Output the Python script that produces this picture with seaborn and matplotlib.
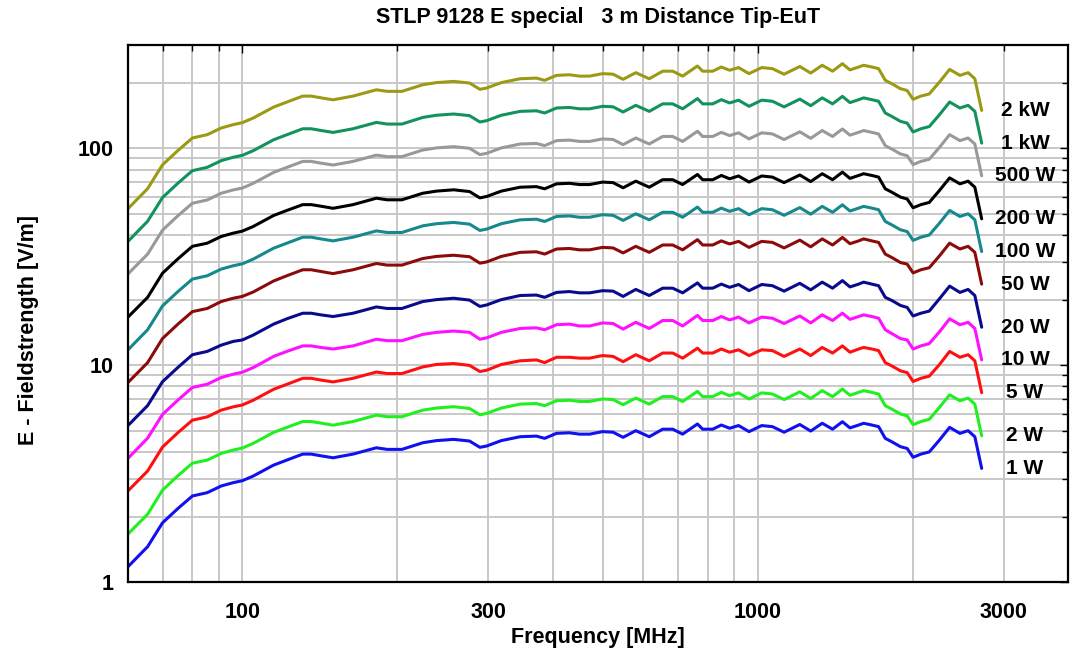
import numpy as np
import pandas as pd
import seaborn as sns
import matplotlib.pyplot as plt
from matplotlib.ticker import FixedLocator, FuncFormatter, NullFormatter

# frequency points [MHz]
freq_mhz = [60, 65.5, 70, 75, 80, 85.5, 91, 96, 100, 105,
            115, 122, 131, 136, 142, 150, 164, 182, 191, 204,
            224, 238, 257, 276, 289, 298, 318, 346, 372, 386,
            407, 431, 451, 472, 500, 524, 548, 580, 616, 654,
            684, 715, 764, 782, 818, 850, 882, 918, 962, 1018,
            1068, 1125, 1207, 1267, 1334, 1397, 1460, 1510, 1570, 1605,
            1665, 1716, 1768, 1822, 1892, 1950, 2002, 2073, 2152, 2253,
            2357, 2468, 2560, 2638, 2720]

# field strength [V/m] for each forward power
e_2kw = [52.8, 65.3, 84.1, 97.9, 111.8, 115.8, 124.3, 128.8, 131.5, 138.2,
         155.2, 163.7, 174.4, 174.4, 171.3, 167.7, 174.4, 186.5, 183.4, 183.4,
         196.8, 201.2, 203.9, 200.3, 187.4, 190.1, 201.2, 209.7, 211.1, 206.2,
         217.3, 218.7, 215.6, 215.6, 221.4, 220.0, 208.4, 223.6, 209.7, 227.2,
         227.2, 215.6, 240.1, 227.2, 227.2, 237.5, 229.4, 236.1, 221.4, 236.1,
         233.4, 220.0, 238.8, 222.7, 241.9, 227.2, 246.0, 230.3, 237.5, 241.9,
         237.5, 233.4, 206.2, 198.6, 188.7, 185.1, 168.6, 174.4, 178.4, 202.6,
         231.6, 217.3, 223.6, 209.7, 149.8]
e_1kw = [37.3, 46.2, 59.4, 69.2, 79.0, 81.9, 87.9, 91.1, 93.0, 97.7,
         109.7, 115.7, 123.3, 123.3, 121.1, 118.6, 123.3, 131.9, 129.6, 129.6,
         139.1, 142.3, 144.2, 141.7, 132.5, 134.4, 142.3, 148.3, 149.2, 145.8,
         153.7, 154.6, 152.4, 152.4, 156.5, 155.6, 147.3, 158.1, 148.3, 160.6,
         160.6, 152.4, 169.8, 160.6, 160.6, 167.9, 162.2, 167.0, 156.5, 167.0,
         165.1, 155.6, 168.9, 157.5, 171.1, 160.6, 173.9, 162.8, 167.9, 171.1,
         167.9, 165.1, 145.8, 140.4, 133.4, 130.9, 119.2, 123.3, 126.2, 143.2,
         163.8, 153.7, 158.1, 148.3, 105.9]
e_500w = [26.4, 32.6, 42.0, 49.0, 55.9, 57.9, 62.2, 64.4, 65.7, 69.1,
          77.6, 81.8, 87.2, 87.2, 85.6, 83.9, 87.2, 93.2, 91.7, 91.7,
          98.4, 100.6, 102.0, 100.2, 93.7, 95.0, 100.6, 104.9, 105.5, 103.1,
          108.7, 109.3, 107.8, 107.8, 110.7, 110.0, 104.2, 111.8, 104.9, 113.6,
          113.6, 107.8, 120.1, 113.6, 113.6, 118.7, 114.7, 118.1, 110.7, 118.1,
          116.7, 110.0, 119.4, 111.4, 121.0, 113.6, 123.0, 115.2, 118.7, 121.0,
          118.7, 116.7, 103.1, 99.3, 94.4, 92.6, 84.3, 87.2, 89.2, 101.3,
          115.8, 108.7, 111.8, 104.9, 74.9]
e_200w = [16.7, 20.6, 26.6, 31.0, 35.4, 36.6, 39.3, 40.7, 41.6, 43.7,
          49.1, 51.8, 55.1, 55.1, 54.2, 53.0, 55.1, 59.0, 58.0, 58.0,
          62.2, 63.6, 64.5, 63.3, 59.2, 60.1, 63.6, 66.3, 66.7, 65.2,
          68.7, 69.1, 68.2, 68.2, 70.0, 69.6, 65.9, 70.7, 66.3, 71.8,
          71.8, 68.2, 75.9, 71.8, 71.8, 75.1, 72.5, 74.7, 70.0, 74.7,
          73.8, 69.6, 75.5, 70.4, 76.5, 71.8, 77.8, 72.8, 75.1, 76.5,
          75.1, 73.8, 65.2, 62.8, 59.7, 58.5, 53.3, 55.1, 56.4, 64.1,
          73.2, 68.7, 70.7, 66.3, 47.4]
e_100w = [11.8, 14.6, 18.8, 21.9, 25.0, 25.9, 27.8, 28.8, 29.4, 30.9,
          34.7, 36.6, 39.0, 39.0, 38.3, 37.5, 39.0, 41.7, 41.0, 41.0,
          44.0, 45.0, 45.6, 44.8, 41.9, 42.5, 45.0, 46.9, 47.2, 46.1,
          48.6, 48.9, 48.2, 48.2, 49.5, 49.2, 46.6, 50.0, 46.9, 50.8,
          50.8, 48.2, 53.7, 50.8, 50.8, 53.1, 51.3, 52.8, 49.5, 52.8,
          52.2, 49.2, 53.4, 49.8, 54.1, 50.8, 55.0, 51.5, 53.1, 54.1,
          53.1, 52.2, 46.1, 44.4, 42.2, 41.4, 37.7, 39.0, 39.9, 45.3,
          51.8, 48.6, 50.0, 46.9, 33.5]
e_50w = [8.34, 10.3, 13.3, 15.5, 17.7, 18.3, 19.7, 20.4, 20.8, 21.8,
         24.5, 25.9, 27.6, 27.6, 27.1, 26.5, 27.6, 29.5, 29.0, 29.0,
         31.1, 31.8, 32.2, 31.7, 29.6, 30.0, 31.8, 33.2, 33.4, 32.6,
         34.4, 34.6, 34.1, 34.1, 35.0, 34.8, 33.0, 35.4, 33.2, 35.9,
         35.9, 34.1, 38.0, 35.9, 35.9, 37.5, 36.3, 37.3, 35.0, 37.3,
         36.9, 34.8, 37.8, 35.2, 38.3, 35.9, 38.9, 36.4, 37.5, 38.3,
         37.5, 36.9, 32.6, 31.4, 29.8, 29.3, 26.7, 27.6, 28.2, 32.0,
         36.6, 34.4, 35.4, 33.2, 23.7]
e_20w = [5.28, 6.53, 8.41, 9.79, 11.2, 11.6, 12.4, 12.9, 13.1, 13.8,
         15.5, 16.4, 17.4, 17.4, 17.1, 16.8, 17.4, 18.6, 18.3, 18.3,
         19.7, 20.1, 20.4, 20.0, 18.7, 19.0, 20.1, 21.0, 21.1, 20.6,
         21.7, 21.9, 21.6, 21.6, 22.1, 22.0, 20.8, 22.4, 21.0, 22.7,
         22.7, 21.6, 24.0, 22.7, 22.7, 23.7, 22.9, 23.6, 22.1, 23.6,
         23.3, 22.0, 23.9, 22.3, 24.2, 22.7, 24.6, 23.0, 23.7, 24.2,
         23.7, 23.3, 20.6, 19.9, 18.9, 18.5, 16.9, 17.4, 17.8, 20.3,
         23.2, 21.7, 22.4, 21.0, 15.0]
e_10w = [3.73, 4.62, 5.94, 6.92, 7.91, 8.19, 8.79, 9.11, 9.30, 9.77,
         11.0, 11.6, 12.3, 12.3, 12.1, 11.9, 12.3, 13.2, 13.0, 13.0,
         13.9, 14.2, 14.4, 14.2, 13.2, 13.4, 14.2, 14.8, 14.9, 14.6,
         15.4, 15.5, 15.2, 15.2, 15.7, 15.6, 14.7, 15.8, 14.8, 16.1,
         16.1, 15.2, 17.0, 16.1, 16.1, 16.8, 16.2, 16.7, 15.7, 16.7,
         16.5, 15.6, 16.9, 15.7, 17.1, 16.1, 17.4, 16.3, 16.8, 17.1,
         16.8, 16.5, 14.6, 14.0, 13.3, 13.1, 11.9, 12.3, 12.6, 14.3,
         16.4, 15.4, 15.8, 14.8, 10.6]
e_5w = [2.64, 3.26, 4.20, 4.90, 5.59, 5.79, 6.22, 6.44, 6.57, 6.91,
        7.76, 8.18, 8.72, 8.72, 8.56, 8.39, 8.72, 9.32, 9.17, 9.17,
        9.84, 10.1, 10.2, 10.0, 9.37, 9.50, 10.1, 10.5, 10.6, 10.3,
        10.9, 10.9, 10.8, 10.8, 11.1, 11.0, 10.4, 11.2, 10.5, 11.4,
        11.4, 10.8, 12.0, 11.4, 11.4, 11.9, 11.5, 11.8, 11.1, 11.8,
        11.7, 11.0, 11.9, 11.1, 12.1, 11.4, 12.3, 11.5, 11.9, 12.1,
        11.9, 11.7, 10.3, 9.93, 9.44, 9.26, 8.43, 8.72, 8.92, 10.1,
        11.6, 10.9, 11.2, 10.5, 7.49]
e_2w = [1.67, 2.06, 2.66, 3.10, 3.54, 3.66, 3.93, 4.07, 4.16, 4.37,
        4.91, 5.18, 5.51, 5.51, 5.42, 5.30, 5.51, 5.90, 5.80, 5.80,
        6.22, 6.36, 6.45, 6.33, 5.92, 6.01, 6.36, 6.63, 6.67, 6.52,
        6.87, 6.91, 6.82, 6.82, 7.00, 6.96, 6.59, 7.07, 6.63, 7.18,
        7.18, 6.82, 7.59, 7.18, 7.18, 7.51, 7.25, 7.47, 7.00, 7.47,
        7.38, 6.96, 7.55, 7.04, 7.65, 7.18, 7.78, 7.28, 7.51, 7.65,
        7.51, 7.38, 6.52, 6.28, 5.97, 5.85, 5.33, 5.51, 5.64, 6.41,
        7.32, 6.87, 7.07, 6.63, 4.74]
e_1w = [1.18, 1.46, 1.88, 2.19, 2.50, 2.59, 2.78, 2.88, 2.94, 3.09,
        3.47, 3.66, 3.90, 3.90, 3.83, 3.75, 3.90, 4.17, 4.10, 4.10,
        4.40, 4.50, 4.56, 4.48, 4.19, 4.25, 4.50, 4.69, 4.72, 4.61,
        4.86, 4.89, 4.82, 4.82, 4.95, 4.92, 4.66, 5.00, 4.69, 5.08,
        5.08, 4.82, 5.37, 5.08, 5.08, 5.31, 5.13, 5.28, 4.95, 5.28,
        5.22, 4.92, 5.34, 4.98, 5.41, 5.08, 5.50, 5.15, 5.31, 5.41,
        5.31, 5.22, 4.61, 4.44, 4.22, 4.14, 3.77, 3.90, 3.99, 4.53,
        5.18, 4.86, 5.00, 4.69, 3.35]

power_labels = ['2 kW', '1 kW', '500 W', '200 W', '100 W', '50 W',
                '20 W', '10 W', '5 W', '2 W', '1 W']
series = [e_2kw, e_1kw, e_500w, e_200w, e_100w, e_50w,
          e_20w, e_10w, e_5w, e_2w, e_1w]
line_colors = ['#9c9a14', '#12925c', '#999999', '#000000', '#15898c', '#8c0a0a',
               '#0a0a8c', '#ff10ff', '#ff1010', '#20f020', '#1010f0']

# long table for seaborn
rows = []
for lab, vals in zip(power_labels, series):
    for f, v in zip(freq_mhz, vals):
        rows.append((f, v, lab))
df = pd.DataFrame(rows, columns=['freq', 'E', 'power'])

sns.set_style('white')
plt.rcParams['font.family'] = ['Liberation Sans', 'DejaVu Sans']
plt.rcParams['font.weight'] = 'bold'
plt.rcParams['axes.labelweight'] = 'bold'
# plain black text like the original
plt.rcParams['text.color'] = 'black'
plt.rcParams['axes.labelcolor'] = 'black'
plt.rcParams['xtick.color'] = 'black'
plt.rcParams['ytick.color'] = 'black'

fig = plt.figure(figsize=(10.7, 6.52), dpi=100)
ax = fig.add_axes([128 / 1070, (652 - 582.3) / 652, 940 / 1070, 537.3 / 652])
ax.set_xscale('log')
ax.set_yscale('log')

sns.lineplot(data=df, x='freq', y='E', hue='power', hue_order=power_labels,
             palette=dict(zip(power_labels, line_colors)), estimator=None,
             linewidth=2.2, legend=False, ax=ax)

ax.set_xlim(60, 4000)
ax.set_ylim(1, 300)

# ticks: labelled 100 / 300 / 1000 / 3000 on x, decades on y
ax.xaxis.set_major_locator(FixedLocator([100, 1000]))
ax.xaxis.set_major_formatter(FuncFormatter(lambda v, p: f'{v:.0f}'))
x_minor = [70, 80, 90, 200, 300, 400, 500, 600, 700, 800, 900, 2000, 3000]
ax.xaxis.set_minor_locator(FixedLocator(x_minor))
ax.xaxis.set_minor_formatter(FuncFormatter(lambda v, p: f'{v:.0f}' if v in (300, 3000) else ''))
ax.yaxis.set_major_locator(FixedLocator([1, 10, 100]))
ax.yaxis.set_major_formatter(FuncFormatter(lambda v, p: f'{v:.0f}'))
y_minor = [2, 3, 4, 5, 6, 7, 8, 9, 20, 30, 40, 50, 60, 70, 80, 90, 200]
ax.yaxis.set_minor_locator(FixedLocator(y_minor))
ax.yaxis.set_minor_formatter(NullFormatter())

ax.tick_params(which='both', direction='in', top=True, right=True,
               labelsize=15.5, width=1, color='black', labelcolor='black')
ax.tick_params(which='major', length=6)
ax.tick_params(which='minor', length=4)
ax.tick_params(axis='x', which='both', pad=14)
ax.tick_params(axis='y', which='both', pad=10)

ax.grid(which='both', color='#c8c8c8', linewidth=1.4)
ax.set_axisbelow(True)
for sp in ax.spines.values():
    sp.set_color('black')
    sp.set_linewidth(1.6)

# power labels next to the curve ends
for lab, vals in zip(power_labels, series):
    ax.text(3300, vals[-1], lab, ha='center', va='center',
            fontsize=15, fontweight='bold', color='black')

ax.set_xlabel('Frequency [MHz]', fontsize=15.5, color='black')
ax.set_ylabel('E - Fieldstrength [V/m]', fontsize=15.5, color='black')
ax.xaxis.set_label_coords(0.5, -0.083)
ax.yaxis.set_label_coords(-0.095, 0.47)

fig.text(598 / 1070, 1 - 18 / 652, 'STLP 9128 E special   3 m Distance Tip-EuT',
         ha='center', va='center', fontsize=15.5, fontweight='bold', color='black')

fig.savefig('out.png', dpi=100)
